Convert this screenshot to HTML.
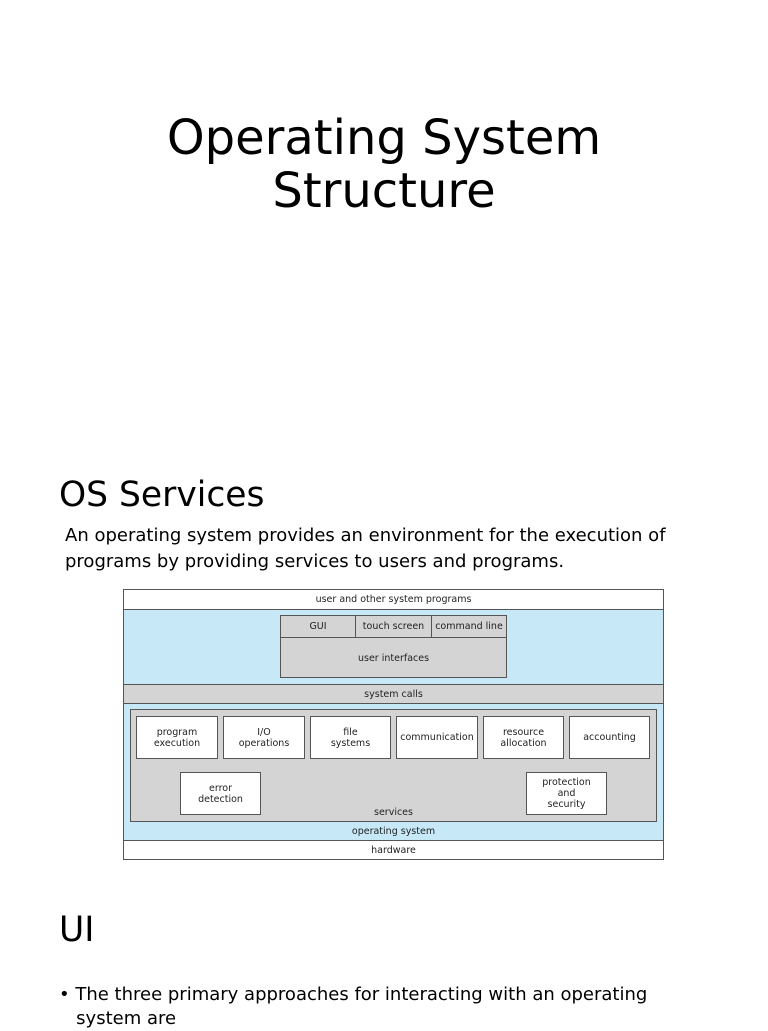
<!DOCTYPE html>
<html><head><meta charset="utf-8"><style>
body{margin:0;width:768px;height:1024px;background:#fff;position:relative;overflow:hidden;font-family:"DejaVu Sans","Liberation Sans",sans-serif;color:#000}
.a{position:absolute;white-space:nowrap}
.b{position:absolute;box-sizing:border-box;border:1px solid #555;display:flex;align-items:center;justify-content:center;text-align:center;font-size:9.5px;line-height:11px;color:#222}
.w{background:#fff}.g{background:#d4d4d4}.bl{background:#c6e8f7}
</style></head><body>
<div class="a" style="left:0;width:768px;text-align:center;top:112px;font-size:48px;line-height:53px">Operating System<br>Structure</div>
<div class="a" style="left:59px;top:475px;font-size:34.5px">OS Services</div>
<div class="a" style="left:65px;top:523px;font-size:18px;line-height:26px">An operating system provides an environment for the execution of<br>programs by providing services to users and programs.</div>

<div class="b w" style="left:123px;top:589px;width:541px;height:21px">user and other system programs</div>
<div class="b bl" style="left:123px;top:609px;width:541px;height:76px"></div>
<div class="b g" style="left:280px;top:615px;width:227px;height:63px;align-items:flex-end;padding-bottom:13px">user interfaces</div>
<div class="b g" style="left:280px;top:615px;width:76px;height:23px">GUI</div>
<div class="b g" style="left:355px;top:615px;width:77px;height:23px">touch screen</div>
<div class="b g" style="left:431px;top:615px;width:76px;height:23px">command line</div>
<div class="b g" style="left:123px;top:684px;width:541px;height:20px">system calls</div>
<div class="b bl" style="left:123px;top:703px;width:541px;height:138px;align-items:flex-end;padding-bottom:3px">operating system</div>
<div class="b g" style="left:130px;top:709px;width:527px;height:113px;align-items:flex-end;padding-bottom:3px">services</div>
<div class="b w" style="left:136px;top:716px;width:82px;height:43px">program<br>execution</div>
<div class="b w" style="left:223px;top:716px;width:82px;height:43px">I/O<br>operations</div>
<div class="b w" style="left:310px;top:716px;width:81px;height:43px">file<br>systems</div>
<div class="b w" style="left:396px;top:716px;width:82px;height:43px">communication</div>
<div class="b w" style="left:483px;top:716px;width:81px;height:43px">resource<br>allocation</div>
<div class="b w" style="left:569px;top:716px;width:81px;height:43px">accounting</div>
<div class="b w" style="left:180px;top:772px;width:81px;height:43px">error<br>detection</div>
<div class="b w" style="left:526px;top:772px;width:81px;height:43px">protection<br>and<br>security</div>
<div class="b w" style="left:123px;top:840px;width:541px;height:20px">hardware</div>

<div class="a" style="left:59px;top:910px;font-size:34.5px">UI</div>
<div class="a" style="left:59px;top:983px;font-size:18px;line-height:24px">• The three primary approaches for interacting with an operating<br>&nbsp;&nbsp;&nbsp;system are</div>
</body></html>
